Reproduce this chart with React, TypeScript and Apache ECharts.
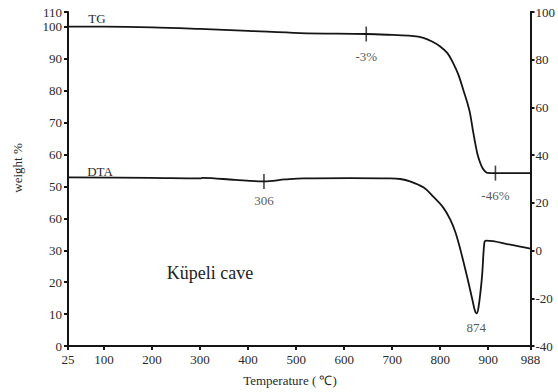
import React, { useEffect, useRef } from "react";
import * as echarts from "echarts";

// TG curve (weight %, left axis)
const tgTemps = [25, 100, 200, 300, 400, 508, 646, 700, 740, 765, 785, 800, 815, 827, 838, 848, 856, 862, 869, 877, 883, 888, 893, 898, 930, 988];
const tgWeights = [100.1, 100.1, 99.9, 99.4, 98.8, 98.1, 97.8, 97.5, 97.2, 96.6, 95.3, 93.9, 91.8, 88.7, 85.0, 80.3, 76.5, 73, 66.8, 60.5, 57.5, 55.8, 54.8, 54.3, 54.2, 54.2];

// DTA curve (right axis)
const dtaTemps = [25, 196, 300, 306, 373, 433, 477, 515, 612, 696, 717, 737, 765, 785, 806, 821, 832, 842, 856, 867, 872, 876, 880, 887, 892, 896, 946, 988];
const dtaValues = [30.7, 30.5, 30.3, 30.5, 29.6, 29.0, 29.8, 30.3, 30.4, 30.3, 30.0, 29.0, 26.5, 22.7, 18.1, 13.0, 7.5, 0.4, -11, -20.6, -25.0, -26.3, -23.5, -11, 3.4, 4.2, 2.5, 0.8];

// annotations
const tgMarkTemps = [646, 915];
const tgMarkValues = [97.8, 54.2];
const tgMarkLabels = ["-3%", "-46%"];
const dtaMarkTemps = [433];
const dtaMarkValues = [29.0];
const dtaMarkLabels = ["306"];
const peakTemp = [875];
const peakValue = [-26.3];
const peakLabel = ["874"];

// axes ticks
const xTickValues = [25, 100, 200, 300, 400, 500, 600, 700, 800, 900, 988];
const leftTickValues = [0, 10, 20, 30, 40, 50, 60, 70, 80, 90, 100, 104.7];
const leftTickLabels = ["0", "10", "20", "30", "60", "50", "60", "70", "80", "90", "100", "110"];

const FONT = "Liberation Serif";
const TXT = "#2a2a2a";
const LINE = "#151515";

export default function App() {
  const ref = useRef<HTMLDivElement>(null);
  useEffect(() => {
    if (!ref.current) return;
    const chart = echarts.init(ref.current, null, { renderer: "svg" });
    const zip = (a: number[], b: number[]) => a.map((v, i) => [v, b[i]]);
    const axisLine = { show: true, lineStyle: { color: LINE, width: 2 } };
    const axisTick = { show: true, length: 4, lineStyle: { color: LINE, width: 2 } };
    const labelStyle = { fontFamily: FONT, fontSize: 13, color: TXT };
    chart.setOption({
      animation: false,
      backgroundColor: "#fff",
      grid: { left: 68, right: 27, top: 12, bottom: 46 },
      xAxis: {
        type: "value",
        min: 25,
        max: 988,
        axisLine,
        axisTick: { ...axisTick, customValues: xTickValues },
        axisLabel: { ...labelStyle, margin: 7, customValues: xTickValues },
        splitLine: { show: false },
      },
      yAxis: [
        {
          type: "value",
          min: 0,
          max: 104.7,
          position: "left",
          axisLine,
          axisTick: { ...axisTick, customValues: leftTickValues },
          axisLabel: {
            ...labelStyle,
            margin: 6,
            customValues: leftTickValues,
            formatter: (v: number) => {
              const i = leftTickValues.findIndex((t) => Math.abs(t - v) < 0.01);
              return i >= 0 ? leftTickLabels[i] : "";
            },
          },
          splitLine: { show: false },
        },
        {
          type: "value",
          min: -40,
          max: 100,
          interval: 20,
          position: "right",
          axisLine,
          axisTick,
          axisLabel: { ...labelStyle, margin: 5 },
          splitLine: { show: false },
        },
      ],
      graphic: [
        { type: "text", x: 97, y: 18, style: { text: "TG", font: `13px ${FONT}`, fill: TXT, textAlign: "center", textVerticalAlign: "middle" } },
        { type: "text", x: 100, y: 171, style: { text: "DTA", font: `13px ${FONT}`, fill: TXT, textAlign: "center", textVerticalAlign: "middle" } },
        { type: "text", x: 210, y: 273, style: { text: "Küpeli cave", font: `18px ${FONT}`, fill: "#222", textAlign: "center", textVerticalAlign: "middle" } },
        { type: "text", x: 290, y: 380, style: { text: "Temperature ( ℃)", font: `13px ${FONT}`, fill: TXT, textAlign: "center", textVerticalAlign: "middle" } },
        { type: "text", x: 17, y: 168, rotation: Math.PI / 2, style: { text: "weight %", font: `13px ${FONT}`, fill: TXT, textAlign: "center", textVerticalAlign: "middle" } },
      ],
      series: [
        {
          type: "line",
          yAxisIndex: 0,
          data: zip(tgTemps, tgWeights),
          symbol: "none",
          smooth: 0.35,
          lineStyle: { color: LINE, width: 1.8 },
        },
        {
          type: "line",
          yAxisIndex: 1,
          data: zip(dtaTemps, dtaValues),
          symbol: "none",
          smooth: 0.35,
          lineStyle: { color: LINE, width: 1.8 },
        },
        {
          type: "scatter",
          yAxisIndex: 0,
          data: tgMarkTemps.map((t, i) => [t, tgMarkValues[i], tgMarkLabels[i]]),
          symbol: "rect",
          symbolSize: [1.6, 15],
          itemStyle: { color: LINE },
          label: { show: true, position: "bottom", distance: 8, formatter: (p: any) => p.data[2], ...labelStyle },
        },
        {
          type: "scatter",
          yAxisIndex: 1,
          data: dtaMarkTemps.map((t, i) => [t, dtaMarkValues[i], dtaMarkLabels[i]]),
          symbol: "rect",
          symbolSize: [1.6, 15],
          itemStyle: { color: LINE },
          label: { show: true, position: "bottom", distance: 5, formatter: (p: any) => p.data[2], ...labelStyle },
        },
        {
          type: "scatter",
          yAxisIndex: 1,
          data: peakTemp.map((t, i) => [t, peakValue[i], peakLabel[i]]),
          symbol: "rect",
          symbolSize: 0.1,
          itemStyle: { color: "rgba(0,0,0,0)" },
          label: { show: true, position: "bottom", distance: 8, formatter: (p: any) => p.data[2], ...labelStyle },
        },
      ],
    });
    return () => chart.dispose();
  }, []);
  return <div ref={ref} style={{ position: "fixed", left: 0, top: 0, width: 558, height: 392 }} />;
}
